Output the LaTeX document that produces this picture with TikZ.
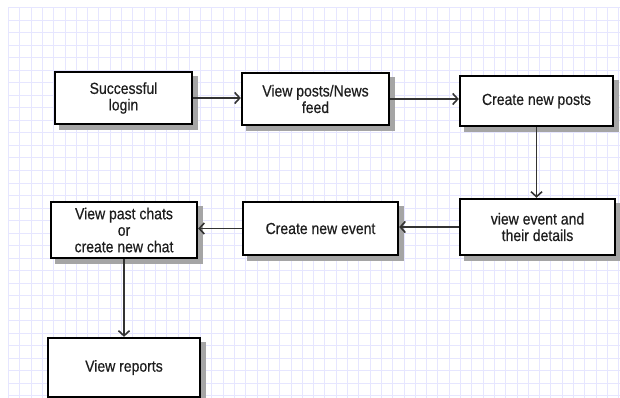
\documentclass[tikz,border=0pt]{standalone}
\usepackage{fontspec}
\setmainfont{Liberation Sans}[FakeStretch=0.875,FakeBold=0.5]
\usetikzlibrary{arrows.meta,calc,backgrounds}
\definecolor{gridc}{RGB}{230,230,255}
\definecolor{txtc}{RGB}{30,30,30}
\definecolor{arrc}{RGB}{50,50,50}
\definecolor{shadc}{RGB}{165,165,165}
\begin{document}
\begin{tikzpicture}[x=1pt,y=-1pt,
  flowbox/.style={draw=black,line width=2.4pt,fill=white,align=center,
    text=txtc,inner sep=2pt,
    font=\fontsize{16}{16.5}\selectfont},
  flowarrow/.style={draw=arrc,line width=1.5pt,
    -{Straight Barb[length=5pt,width=11pt,line width=1.6pt]}},
  shadowbox/.style={fill=shadc}]
\useasboundingbox (0,0) rectangle (620,398);
% boxes
\node[flowbox,minimum width=137pt,minimum height=52pt] (login) at (123.5,98) {Successful\\login};
\node[flowbox,minimum width=147pt,minimum height=52pt] (feed) at (315.5,99) {View posts/News\\feed};
\node[flowbox,minimum width=153pt,minimum height=50pt] (posts) at (536.5,101) {Create new posts};
\node[flowbox,minimum width=155pt,minimum height=56pt] (details) at (537.5,227) {view event and\\their details};
\node[flowbox,minimum width=155pt,minimum height=53pt] (event) at (320.5,228.5) {Create new event};
\node[flowbox,minimum width=146pt,minimum height=56pt] (chats) at (124,230) {View past chats\\or\\create new chat};
\node[flowbox,minimum width=152pt,minimum height=59pt] (reports) at (124,367.5) {View reports};
% background: white, grid, shadows
\begin{scope}[on background layer]
  \fill[white] (0,0) rectangle (620,398);
  \foreach \i in {0,...,54} {
    \draw[gridc,line width=1pt] ({8.5+11.3*\i},8) -- ({8.5+11.3*\i},398);
  }
  \foreach \j in {0,...,31} {
    \draw[gridc,line width=1pt] (8,{8+12.5*\j}) -- (620,{8+12.5*\j});
  }
  \foreach \n in {login,feed,posts,details,event,chats,reports} {
    \fill[shadowbox] ($(\n.north west)+(5,5)$) rectangle ($(\n.south east)+(5,5)$);
  }
\end{scope}
% connectors
\draw[flowarrow] (login.east) -- (login.east -| feed.west);
\draw[flowarrow] (feed.east) -- (feed.east -| posts.west);
\draw[flowarrow] (posts.south) -- (posts.south |- details.north);
\draw[flowarrow] (details.west) -- (details.west -| event.east);
\draw[flowarrow] (event.west) -- (event.west -| chats.east);
\draw[flowarrow] (chats.south) -- (chats.south |- reports.north);
\end{tikzpicture}
\end{document}
